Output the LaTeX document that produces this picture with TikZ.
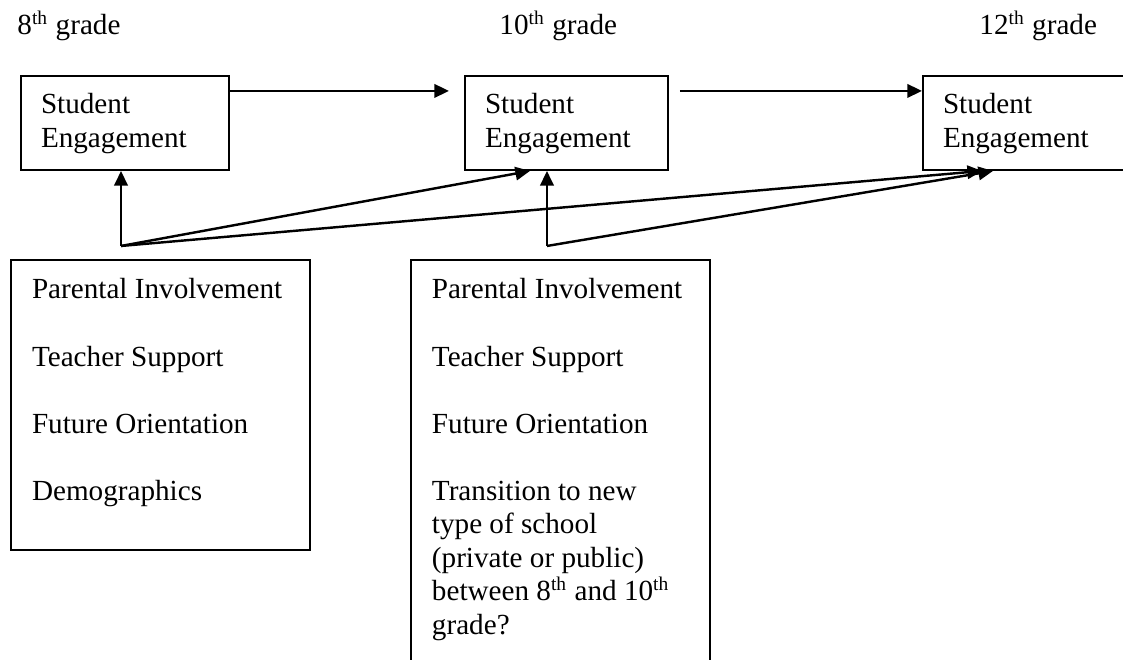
\documentclass[tikz,border=0pt]{standalone}
\usepackage{fontspec}
\setmainfont{Liberation Serif}
\usetikzlibrary{arrows.meta}

\begin{document}
\begin{tikzpicture}[font=\fontsize{12pt}{13.8pt}\selectfont,
  line/.style={draw, line width=1pt, -{Triangle[length=6pt,width=5.5pt]}, shorten >= 0pt},
  sebox/.style={rectangle, draw=black, line width=0.8pt, fill=white, anchor=north west, align=flush left, inner xsep=0.29cm, inner ysep=0pt, text width=#1, text height=0.55cm, text depth=0.81cm},
  listbox/.style={rectangle, draw=black, line width=0.8pt, fill=white, anchor=north west, align=flush left, inner xsep=0.304cm, inner ysep=0pt, text width=3.716cm, text height=0.564cm, text depth=#1},
  grade/.style={anchor=base west, inner sep=0pt}]
\useasboundingbox (0,0) rectangle (16.24,9.544);
\clip (0,0) rectangle (16.24,9.544);
\node [grade] (g8) at (0.246,9.038) {8\textsuperscript{th} grade};
\node [grade] (g10) at (7.216,9.038) {10\textsuperscript{th} grade};
\node [grade] (g12) at (14.157,9.038) {12\textsuperscript{th} grade};
\node [sebox=2.428cm] (se8) at (0.289,8.460) {Student\\Engagement};
\node [sebox=2.356cm] (se10) at (6.710,8.460) {Student\\Engagement};
\node [sebox=2.385cm] (se12) at (13.333,8.460) {Student\\Engagement};
\node [listbox=3.63cm] (pf8) at (0.145,5.799) {Parental Involvement\\[13.8pt]Teacher Support\\[13.8pt]Future Orientation\\[13.8pt]Demographics};
\node [listbox=6cm] (pf10) at (5.929,5.799) {Parental Involvement\\[13.8pt]Teacher Support\\[13.8pt]Future Orientation\\[13.8pt]Transition to new\\type of school\\(private or public)\\between 8\textsuperscript{th} and 10\textsuperscript{th}\\grade?};
\coordinate (j8) at (1.750,5.987);
\coordinate (j10) at (7.910,5.987);

\begin{scope}[every path/.style=line]
  \path [shorten >= 0.217cm] ([yshift=0.463cm]se8.east) -- ([yshift=0.463cm]se10.west);
  \path [shorten <= 0.159cm] ([yshift=0.463cm]se10.east) -- ([yshift=0.463cm]se12.west);
  \path (j8) -- (j8 |- se8.south);
  \path (j8) -- ([xshift=0.954cm]se10.south west);
  \path (j8) -- ([xshift=0.868cm]se12.south west);
  \path (j10) -- (j10 |- se10.south);
  \path (j10) -- ([xshift=1.027cm]se12.south west);
\end{scope}
\end{tikzpicture}
\end{document}
